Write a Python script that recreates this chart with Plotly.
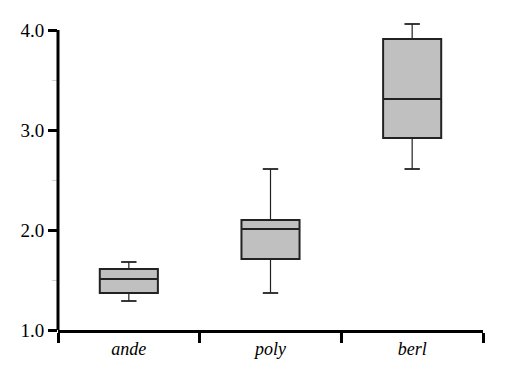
import plotly.graph_objects as go

categories = ["ande", "poly", "berl"]
lower_whisker = [1.29, 1.37, 2.61]
q1_values = [1.37, 1.71, 2.92]
medians = [1.51, 2.01, 3.31]
q3_values = [1.61, 2.10, 3.91]
upper_whisker = [1.68, 2.61, 4.06]
y_ticks = [1.0, 2.0, 3.0, 4.0]

fig = go.Figure()

# whiskers
wx, wy = [], []
for c, lo, q1, q3, hi in zip(categories, lower_whisker, q1_values, q3_values, upper_whisker):
    wx += [c, c, None, c, c, None]
    wy += [lo, q1, None, q3, hi, None]
fig.add_trace(go.Scatter(x=wx, y=wy, mode="lines", line=dict(color="#222222", width=1.2),
                         showlegend=False, hoverinfo="skip"))
# caps
fig.add_trace(go.Scatter(x=categories + categories, y=lower_whisker + upper_whisker, mode="markers",
                         marker=dict(symbol="line-ew", size=11, line=dict(color="#222222", width=1.8)),
                         showlegend=False, hoverinfo="skip"))

fig.add_trace(go.Box(
    x=categories, q1=q1_values, median=medians, q3=q3_values,
    lowerfence=q1_values, upperfence=q3_values,
    fillcolor="#c0c0c0", line=dict(color="#222222", width=2),
    width=0.41, showlegend=False, boxpoints=False,
))

fig.add_shape(type="line", xref="paper", yref="y", x0=0, x1=0, y0=1.0, y1=4.0,
              line=dict(color="black", width=3))

fig.update_layout(
    width=499, height=369,
    margin=dict(l=50, r=24, t=12, b=47),
    plot_bgcolor="white", paper_bgcolor="white",
    font=dict(family="Liberation Serif", color="black"),
)
fig.update_xaxes(
    type="category", range=[-0.5, 2.5], tickson="boundaries",
    showline=True, linecolor="black", linewidth=3,
    ticks="outside", ticklen=10, tickwidth=3, tickcolor="black",
    tickfont=dict(size=18, style="italic", family="Liberation Serif"),
    showgrid=False, zeroline=False,
)
fig.update_yaxes(
    range=[1.0, 4.1], tickvals=y_ticks, ticktext=[f"{v:.1f}" for v in y_ticks],
    showline=False, ticks="outside", ticklen=9, tickwidth=3, tickcolor="black",
    tickfont=dict(size=19, family="Liberation Serif"),
    minor=dict(tickvals=[1.5, 2.5, 3.5], ticks="outside", ticklen=5, tickwidth=1, tickcolor="#d0d0d0"),
    showgrid=False, zeroline=False,
)

fig.write_html("out.html")
